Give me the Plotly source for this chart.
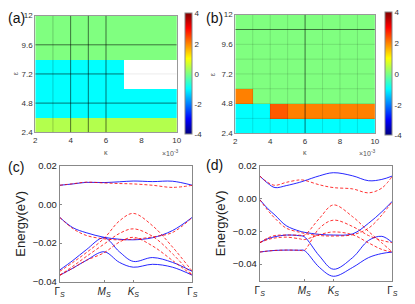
import numpy as np
import plotly.graph_objects as go

# ---------------- data ----------------
kappa_edges = [2, 3, 4, 5, 6, 7, 8, 9, 10]
eps_edges = [2.4, 3.6, 4.8, 6.0, 7.2, 8.4, 9.6, 10.8, 12.0]
kappa_centers = [2.5, 3.5, 4.5, 5.5, 6.5, 7.5, 8.5, 9.5]
eps_centers = [3.0, 4.2, 5.4, 6.6, 7.8, 9.0, 10.2, 11.4]

nan = None
za = [
    [0.4, 0.4, 0.4, 0.4, 0.4, 0.4, 0.4, 0.4],
    [-1, -1, -1, -1, -1, -1, -1, -1],
    [-1, -1, -1, -1, -1, -1, -1, -1],
    [-1, -1, -1, -1, -1, nan, nan, nan],
    [-1, -1, -1, -1, -1, nan, nan, nan],
    [0, 0, 0, 0, 0, 0, 0, 0],
    [0, 0, 0, 0, 0, 0, 0, 0],
    [0, 0, 0, 0, 0, 0, 0, 0],
]
zb = [
    [-1, -1, -1, -1, -1, -1, -1, -1],
    [-1, -1, 2.3, 2, 2, 2, 2, 2],
    [2, 0, 0, 0, 0, 0, 0, 0],
    [0, 0, 0, 0, 0, 0, 0, 0],
    [0, 0, 0, 0, 0, 0, 0, 0],
    [0, 0, 0, 0, 0, 0, 0, 0],
    [0, 0, 0, 0, 0, 0, 0, 0],
    [0, 0, 0, 0, 0, 0, 0, 0],
]
heat_ticks_x = [2, 4, 6, 8, 10]
heat_ticks_y = [2.4, 4.8, 7.2, 9.6, 12]
heat_ticktext_y = ["2.4", "4.8", "7.2", "9.6", "12"]
cbar_ticks = [-4, -2, 0, 2, 4]

# band structure (c)
kc = [0, 0.1, 0.2, 0.335, 0.45, 0.555, 0.7, 0.85, 1.0]
kc_ticks = [0, 0.335, 0.555, 1.0]
c_blue = [
    [0.0100, 0.0107, 0.0115, 0.0114, 0.0118, 0.0122, 0.0119, 0.0121, 0.0100],
    [-0.0066, -0.0120, -0.0146, -0.0170, -0.0180, -0.0183, -0.0172, -0.0135, -0.0066],
    [-0.0340, -0.0290, -0.0235, -0.0172, -0.0245, -0.0295, -0.0275, -0.0300, -0.0347],
    [-0.0367, -0.0330, -0.0290, -0.0245, -0.0300, -0.0325, -0.0310, -0.0325, -0.0367],
]
c_red = [
    [0.0100, 0.0108, 0.0116, 0.0112, 0.0109, 0.0107, 0.0100, 0.0089, 0.0100],
    [-0.0066, -0.0125, -0.0160, -0.0178, -0.0183, -0.0180, -0.0168, -0.0145, -0.0066],
    [-0.0347, -0.0300, -0.0250, -0.0175, -0.0085, -0.0046, -0.0110, -0.0220, -0.0347],
    [-0.0367, -0.0320, -0.0270, -0.0205, -0.0150, -0.0126, -0.0165, -0.0255, -0.0367],
    [-0.0367, -0.0330, -0.0290, -0.0250, -0.0195, -0.0170, -0.0215, -0.0290, -0.0367],
]

# band structure (d)
kd = [0, 0.06, 0.115, 0.2, 0.3, 0.335, 0.45, 0.555, 0.7, 0.82, 0.92, 1.0]
kd_ticks = [0, 0.335, 0.555, 1.0]
d_blue = [
    [0.0139, 0.0095, 0.0068, 0.0080, 0.0100, 0.0109, 0.0140, 0.0159, 0.0140, 0.0110, 0.0118, 0.0139],
    [-0.0005, -0.0060, -0.0100, -0.0165, -0.0198, -0.0205, -0.0218, -0.0222, -0.0215, -0.0150, -0.0080, -0.0015],
    [-0.0269, -0.0245, -0.0232, -0.0222, -0.0226, -0.0232, -0.0350, -0.0431, -0.0360, -0.0255, -0.0230, -0.0269],
    [-0.0326, -0.0320, -0.0316, -0.0314, -0.0315, -0.0316, -0.0420, -0.0474, -0.0420, -0.0360, -0.0335, -0.0326],
]
d_red = [
    [0.0139, 0.0100, 0.0082, 0.0100, 0.0115, 0.0113, 0.0085, 0.0068, 0.0060, 0.0036, 0.0065, 0.0139],
    [-0.0005, -0.0070, -0.0120, -0.0180, -0.0205, -0.0212, -0.0225, -0.0228, -0.0220, -0.0180, -0.0100, -0.0015],
    [-0.0269, -0.0240, -0.0225, -0.0222, -0.0223, -0.0224, -0.0120, -0.0038, -0.0110, -0.0200, -0.0270, -0.0326],
    [-0.0326, -0.0320, -0.0316, -0.0314, -0.0315, -0.0316, -0.0180, -0.0131, -0.0170, -0.0225, -0.0255, -0.0269],
    [-0.0269, -0.0250, -0.0240, -0.0235, -0.0245, -0.0250, -0.0220, -0.0203, -0.0220, -0.0270, -0.0310, -0.0326],
]
band_ticks_y = [-0.04, -0.02, 0.00, 0.02]
band_ticktext_y = ["\u22120.04", "\u22120.02", "0.00", "0.02"]
k_labels = ["\u0393<sub><i>S</i></sub>", "<i>M</i><sub><i>S</i></sub>",
            "<i>K</i><sub><i>S</i></sub>", "\u0393<sub><i>S</i></sub>"]

# ---------------- figure ----------------
W, H = 415, 304
def fx(p):
    return p / W
def fy(p):
    return 1 - p / H

jet = [[0.0, "rgb(0,0,128)"], [0.125, "rgb(0,0,255)"], [0.375, "rgb(0,255,255)"],
       [0.625, "rgb(255,255,0)"], [0.875, "rgb(255,0,0)"], [1.0, "rgb(128,0,0)"]]

FONT = "Liberation Sans, Arial, sans-serif"
fig = go.Figure()

def cbar(xpix, top, bot):
    return dict(x=fx(xpix), xanchor="left", xref="paper",
                y=fy((top + bot) / 2), yanchor="middle",
                len=bot - top, lenmode="pixels", thickness=7, thicknessmode="pixels",
                tickvals=cbar_ticks, ticktext=[str(v) for v in cbar_ticks],
                tickfont=dict(size=8, color="#333", family=FONT),
                ticks="", outlinecolor="#888", outlinewidth=1, xpad=0, ypad=0)

fig.add_trace(go.Heatmap(x=kappa_centers, y=eps_centers, z=za, colorscale=jet,
                         zmin=-4, zmax=4, xaxis="x", yaxis="y",
                         colorbar=cbar(184, 10, 131), hoverongaps=False))
fig.add_trace(go.Heatmap(x=kappa_centers, y=eps_centers, z=zb, colorscale=jet,
                         zmin=-4, zmax=4, xaxis="x2", yaxis="y2",
                         colorbar=cbar(389, 9, 132), hoverongaps=False))

blue = "rgba(0,0,255,0.85)"
red = "rgba(255,0,0,0.8)"
for arr in c_blue:
    fig.add_trace(go.Scatter(x=kc, y=arr, mode="lines", xaxis="x3", yaxis="y3",
                             line=dict(color=blue, width=1, shape="spline", smoothing=1.0),
                             showlegend=False))
for arr in c_red:
    fig.add_trace(go.Scatter(x=kc, y=arr, mode="lines", xaxis="x3", yaxis="y3",
                             line=dict(color=red, width=1, dash="3px,2px", shape="spline", smoothing=1.0),
                             showlegend=False))
for arr in d_blue:
    fig.add_trace(go.Scatter(x=kd, y=arr, mode="lines", xaxis="x4", yaxis="y4",
                             line=dict(color=blue, width=1, shape="spline", smoothing=1.0),
                             showlegend=False))
for arr in d_red:
    fig.add_trace(go.Scatter(x=kd, y=arr, mode="lines", xaxis="x4", yaxis="y4",
                             line=dict(color=red, width=1, dash="3px,2px", shape="spline", smoothing=1.0),
                             showlegend=False))

heat_ax = dict(showgrid=False, zeroline=False, showline=True, linecolor="#999", linewidth=1,
               mirror=True, ticks="", tickfont=dict(size=8, color="#333", family=FONT))
band_ax = dict(showgrid=False, zeroline=False, showline=True, linecolor="#888", linewidth=1,
               mirror=True, ticks="inside", ticklen=2, tickcolor="#888",
               tickfont=dict(size=9.5, color="#222", family=FONT))

fig.update_layout(
    width=W, height=H, margin=dict(l=0, r=0, t=0, b=0),
    paper_bgcolor="white", plot_bgcolor="white", showlegend=False,
    xaxis=dict(heat_ax, domain=[fx(31), fx(176)], range=[2, 10], tickvals=heat_ticks_x, anchor="y"),
    yaxis=dict(heat_ax, domain=[fy(131), fy(10)], range=[2.4, 12], tickvals=heat_ticks_y,
               ticktext=heat_ticktext_y, anchor="x"),
    xaxis2=dict(heat_ax, domain=[fx(236), fx(379)], range=[2, 10], tickvals=heat_ticks_x, anchor="y2"),
    yaxis2=dict(heat_ax, domain=[fy(132), fy(9)], range=[2.4, 12], tickvals=heat_ticks_y,
                ticktext=heat_ticktext_y, anchor="x2"),
    xaxis3=dict(band_ax, domain=[fx(56), fx(192)], range=[0, 1], tickvals=kc_ticks,
                ticktext=k_labels, anchor="y3", tickfont=dict(size=10, color="#222", family=FONT)),
    yaxis3=dict(band_ax, domain=[fy(286), fy(166)], range=[-0.04, 0.02], tickvals=band_ticks_y,
                ticktext=band_ticktext_y, anchor="x3",
                title=dict(text="Energy(eV)", font=dict(size=13, color="#222", family=FONT), standoff=4)),
    xaxis4=dict(band_ax, domain=[fx(261), fx(397)], range=[0, 1], tickvals=kd_ticks,
                ticktext=k_labels, anchor="y4", tickfont=dict(size=10, color="#222", family=FONT)),
    yaxis4=dict(band_ax, domain=[fy(285), fy(166)], range=[-0.0501, 0.02], tickvals=band_ticks_y,
                ticktext=band_ticktext_y, anchor="x4",
                title=dict(text="Energy(eV)", font=dict(size=13, color="#222", family=FONT), standoff=4)),
)

# cell edge lines on heatmaps
dark = "rgba(0,0,0,0.55)"
faint = "rgba(0,0,0,0.12)"
for xv in [4, 5, 6]:
    fig.add_shape(type="line", xref="x", yref="y", x0=xv, x1=xv, y0=2.4, y1=12,
                  line=dict(color=dark, width=1))
fig.add_shape(type="line", xref="x", yref="y", x0=3, x1=3, y0=2.4, y1=12,
              line=dict(color="rgba(0,0,0,0.2)", width=1))
for yv in [4.8, 9.6]:
    fig.add_shape(type="line", xref="x", yref="y", x0=2, x1=10, y0=yv, y1=yv,
                  line=dict(color=dark, width=1))
fig.add_shape(type="line", xref="x", yref="y", x0=2, x1=7, y0=7.2, y1=7.2,
              line=dict(color=dark, width=1))
fig.add_shape(type="line", xref="x", yref="y", x0=7, x1=10, y0=7.2, y1=7.2,
              line=dict(color="rgba(0,0,0,0.08)", width=1))
for xv in kappa_edges[1:-1]:
    fig.add_shape(type="line", xref="x2", yref="y2", x0=xv, x1=xv, y0=2.4, y1=12,
                  line=dict(color=dark if xv == 6 else faint, width=1))
for yv in eps_edges[1:-1]:
    fig.add_shape(type="line", xref="x2", yref="y2", x0=2, x1=10, y0=yv, y1=yv,
                  line=dict(color=dark if abs(yv - 10.8) < 1e-6 else faint, width=1))

def txt(x, y, s, size, color="#111", angle=0, xanchor="center"):
    fig.add_annotation(x=fx(x), y=fy(y), xref="paper", yref="paper", text=s, showarrow=False,
                       font=dict(size=size, color=color, family=FONT), textangle=angle,
                       xanchor=xanchor, yanchor="middle")

txt(1, 12, "(a)", 14, xanchor="left")
txt(204, 12, "(b)", 14, xanchor="left")
txt(1, 167, "(c)", 14, xanchor="left")
txt(204, 165, "(d)", 14, xanchor="left")
txt(103, 152, "\u03ba", 7, "#555")
txt(307, 152, "\u03ba", 7, "#555")
txt(170, 152, "\u00d710<sup>-3</sup>", 7, "#555")
txt(371, 152, "\u00d710<sup>-3</sup>", 7, "#555")
txt(11, 70, "\u03b5", 7, "#555", angle=-90)
txt(213, 71, "\u03b5", 7, "#555", angle=-90)

fig.write_html("out.html", config={"displayModeBar": False},
               post_script="document.body.style.margin='0px';document.body.style.overflow='hidden';")
